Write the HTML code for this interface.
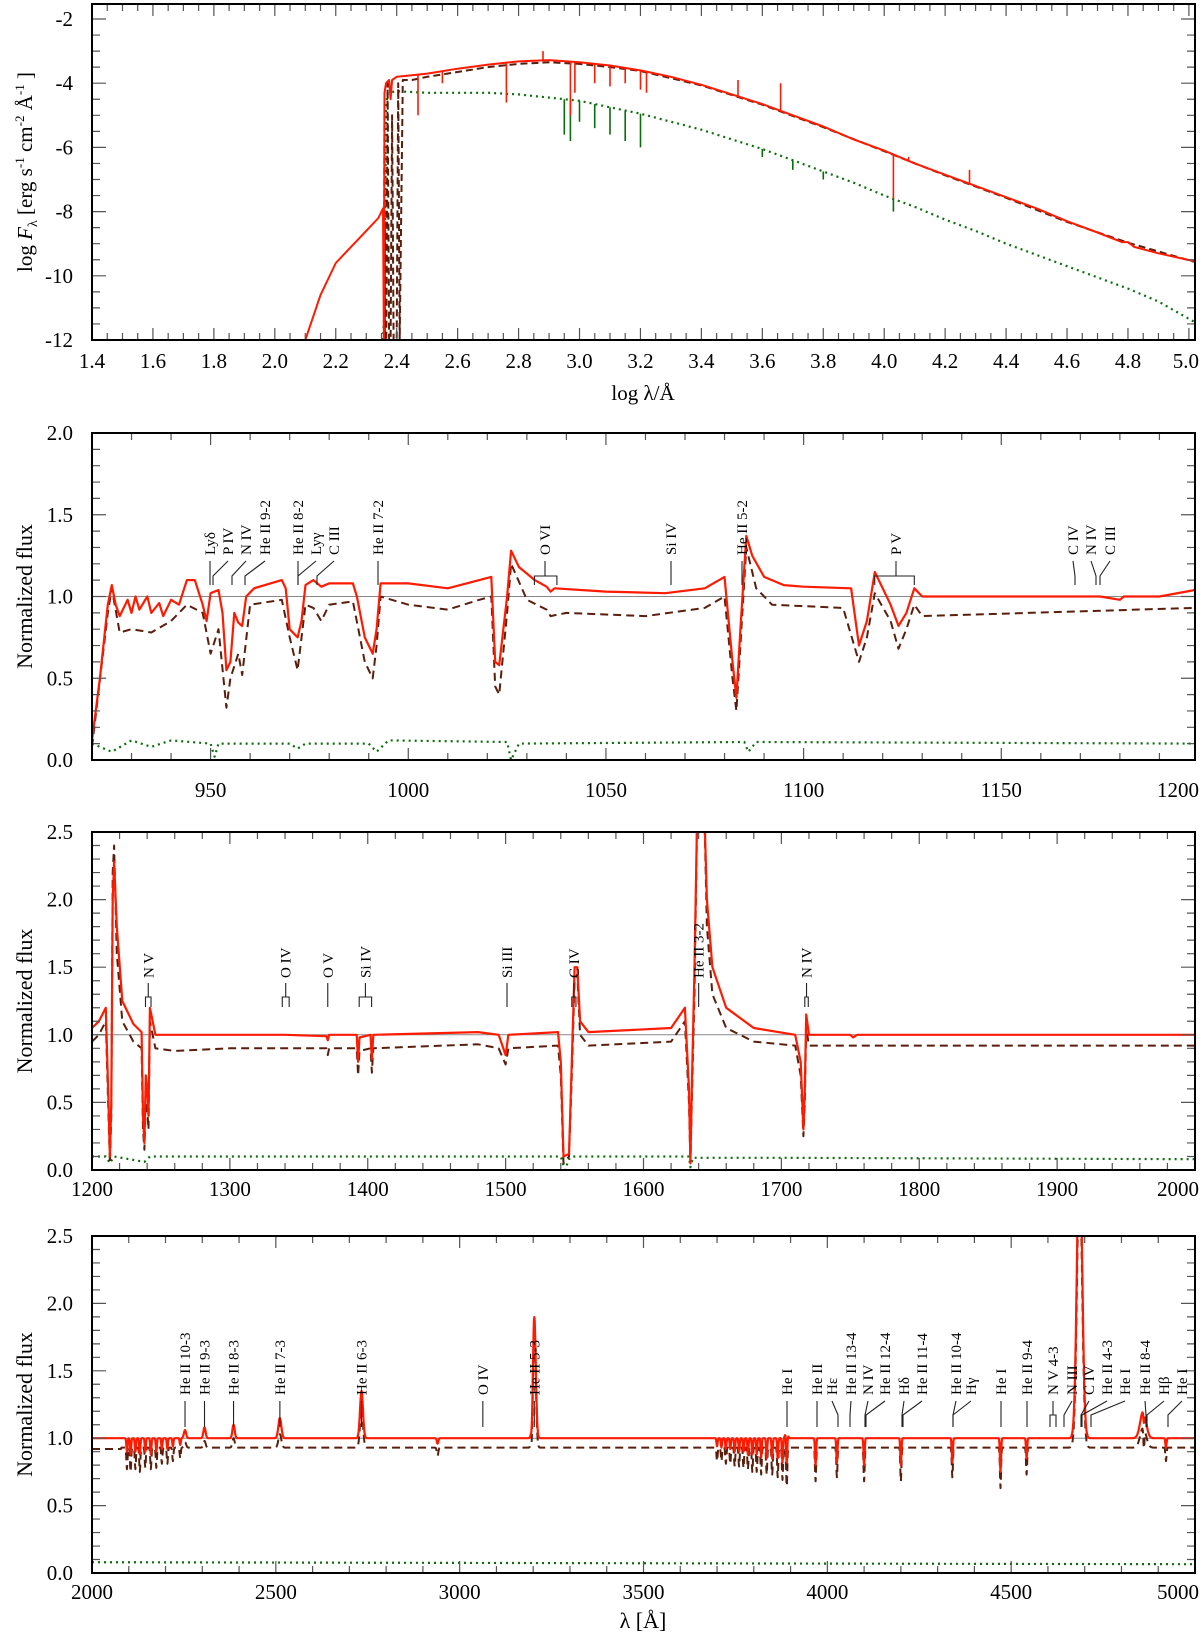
<!DOCTYPE html>
<html><head><meta charset="utf-8">
<style>
html,body{margin:0;padding:0;background:#fff;}
svg{display:block;}
text{font-family:"Liberation Serif",serif;fill:#000;}
</style></head>
<body>
<svg id="chart" width="1200" height="1634" viewBox="0 0 1200 1634" xmlns="http://www.w3.org/2000/svg"></svg>
<script>
// ---------- Panel 1 data (log lambda vs log F) ----------
const p1XTicks=[1.4,1.6,1.8,2.0,2.2,2.4,2.6,2.8,3.0,3.2,3.4,3.6,3.8,4.0,4.2,4.4,4.6,4.8,5.0];
const p1YTicks=[-12,-10,-8,-6,-4,-2];
const p1RedX=[2.10,2.15,2.2,2.25,2.3,2.34,2.355,2.358,2.36,2.365,2.375,2.38,2.385,2.4,2.45,2.5,2.6,2.7,2.8,2.9,3.0,3.1,3.2,3.3,3.4,3.5,3.6,3.7,3.8,3.9,4.0,4.1,4.2,4.3,4.4,4.5,4.6,4.7,4.78,4.8,4.82,4.9,5.02];
const p1RedY=[-12,-10.6,-9.6,-9.1,-8.6,-8.2,-7.9,-12,-4.3,-4.0,-3.9,-4.5,-3.9,-3.8,-3.75,-3.7,-3.55,-3.42,-3.32,-3.28,-3.35,-3.45,-3.6,-3.8,-4.05,-4.35,-4.65,-5.0,-5.35,-5.75,-6.1,-6.5,-6.85,-7.2,-7.55,-7.9,-8.3,-8.65,-8.95,-8.95,-9.1,-9.3,-9.55];
const p1RedSpikeX=[2.47,2.55,2.76,2.88,2.97,2.985,3.05,3.1,3.15,3.2,3.22,3.52,3.66,4.03,4.08,4.28];
const p1RedSpikeY=[-5.0,-4.0,-4.6,-3.0,-5.0,-4.3,-4.0,-4.1,-4.0,-4.2,-4.3,-3.9,-4.0,-7.6,-6.3,-6.7];
const p1DashX=[2.358,2.36,2.362,2.366,2.37,2.375,2.38,2.385,2.39,2.4,2.405,2.41,2.42,2.45,2.5,2.6,2.7,2.8,2.9,3.0,3.1,3.2,3.4,3.6,3.8,4.0,4.2,4.4,4.6,4.8,5.02];
const p1DashY=[-12,-4.5,-12,-12,-4.0,-12,-12,-5.0,-12,-12,-4.0,-12,-3.9,-3.9,-3.8,-3.65,-3.5,-3.4,-3.35,-3.4,-3.5,-3.62,-4.07,-4.67,-5.37,-6.12,-6.87,-7.57,-8.32,-8.97,-9.57];
const p1GreenX=[2.355,2.36,2.365,2.37,2.4,2.5,2.6,2.7,2.8,2.9,3.0,3.1,3.2,3.3,3.4,3.5,3.6,3.7,3.8,3.9,4.0,4.1,4.2,4.3,4.4,4.5,4.6,4.7,4.8,4.9,5.02];
const p1GreenY=[-12,-11,-4.8,-4.3,-4.25,-4.3,-4.3,-4.3,-4.35,-4.45,-4.55,-4.75,-4.95,-5.2,-5.45,-5.75,-6.05,-6.4,-6.75,-7.1,-7.5,-7.85,-8.25,-8.6,-9.0,-9.35,-9.7,-10.05,-10.4,-10.8,-11.45];
const p1GreenSpikeX=[2.362,2.95,2.97,3.0,3.05,3.1,3.15,3.2,3.6,3.7,3.8,4.03];
const p1GreenSpikeY=[-12,-5.6,-5.8,-5.2,-5.4,-5.6,-5.8,-6.0,-6.3,-6.7,-7.0,-8.0];

// ---------- Panel 2 data (920-1200 A) ----------
const p2XTicks=[950,1000,1050,1100,1150,1200];
const normYTicks2=[0,0.5,1.0,1.5,2.0];
const p2RedW=[920,922,924,925,926,927,929,930,931,932,934,935,937,938,940,942,944,946,948,949,950,952,953,954,955,956,957,958,959,961,968,969,970,972,973,974,976,978,980,982,986,987,989,991,992,993,1000,1010,1018,1021,1022,1023,1025,1026,1028,1032,1035,1036,1037,1050,1065,1075,1080,1082,1083,1084,1085.5,1087,1090,1095,1100,1112,1114,1116,1118,1120,1122,1124,1126,1128,1130,1140,1175,1180,1181,1190,1199];
const p2RedF=[0.12,0.5,0.95,1.07,0.95,0.88,0.98,0.9,1.0,0.92,1.0,0.9,0.96,0.88,0.98,0.95,1.1,1.1,0.95,0.85,1.02,1.04,0.9,0.55,0.6,0.9,0.84,0.82,1.0,1.05,1.1,1.05,0.8,0.75,0.85,1.07,1.1,1.06,1.08,1.08,1.08,1.0,0.75,0.65,0.8,1.08,1.08,1.05,1.1,1.12,0.6,0.58,1.0,1.28,1.18,1.1,1.06,1.03,1.05,1.03,1.02,1.05,1.12,0.6,0.38,0.8,1.37,1.25,1.12,1.07,1.06,1.05,0.7,0.85,1.15,1.05,0.95,0.82,0.9,1.05,1.0,1.0,1.0,0.98,1.0,1.0,1.04];
const p2DashW=[920,924,925,927,930,935,940,944,948,950,952,954,955,957,958,960,968,970,972,974,976,978,980,986,989,991,992,993,1000,1010,1018,1021,1022,1023,1025,1026,1030,1035,1036,1040,1060,1075,1080,1082,1083,1084,1085.5,1088,1092,1110,1114,1116,1118,1122,1124,1126,1128,1130,1199];
const p2DashF=[0.08,0.9,1.05,0.78,0.8,0.78,0.85,0.95,0.9,0.65,0.8,0.32,0.5,0.65,0.52,0.95,0.98,0.75,0.55,0.95,0.93,0.85,0.95,0.97,0.6,0.5,0.7,1.0,0.95,0.92,0.98,1.0,0.45,0.4,0.9,1.2,0.98,0.92,0.88,0.9,0.88,0.93,1.0,0.5,0.3,0.7,1.3,1.05,0.95,0.93,0.6,0.75,1.02,0.85,0.68,0.8,0.95,0.88,0.93];
const p2GreenW=[920,925,930,935,940,950,951,952,970,972,974,990,992,995,1025,1026,1028,1085,1086,1088,1199];
const p2GreenF=[0.1,0.05,0.12,0.08,0.12,0.1,0.02,0.1,0.1,0.07,0.1,0.1,0.05,0.12,0.11,0.0,0.1,0.11,0.05,0.11,0.1];

// ---------- Panel 3 data (1200-2000 A) ----------
const p3XTicks=[1200,1300,1400,1500,1600,1700,1800,1900,2000];
const normYTicks=[0,0.5,1.0,1.5,2.0,2.5];
const p3RedW=[1200,1205,1210,1212,1213,1214,1215,1216,1218,1222,1230,1236,1237,1238,1239,1240,1241,1242,1243,1246,1300,1340,1370,1371,1372,1392,1393,1394,1402,1403,1404,1480,1495,1500,1502,1538,1540,1542,1546,1548,1550,1552,1554,1560,1620,1630,1633,1634,1635,1637,1639,1644,1646,1650,1660,1680,1710,1714,1716,1717,1718,1720,1750,1752,1755,2000];
const p3RedF=[1.05,1.1,1.2,0.5,0.1,0.5,2.0,2.28,1.8,1.25,1.08,1.02,0.4,0.2,0.7,0.6,0.4,1.2,1.15,1.0,1.0,1.0,0.99,0.96,1.0,1.0,0.8,0.98,1.0,0.82,1.0,1.02,1.0,0.85,1.0,1.02,0.8,0.1,0.12,0.8,1.5,1.5,1.1,1.02,1.05,1.2,0.6,0.05,0.6,1.5,2.7,2.7,2.0,1.5,1.2,1.05,1.0,0.8,0.3,0.6,1.15,1.0,1.0,0.98,1.0,1.0];
const p3DashW=[1200,1205,1210,1212,1213,1214,1215,1216,1218,1222,1230,1236,1237,1238,1239,1240,1241,1242,1243,1246,1260,1300,1370,1371,1372,1392,1393,1394,1402,1403,1404,1480,1495,1500,1502,1538,1540,1542,1546,1548,1550,1552,1554,1560,1620,1630,1633,1634,1635,1637,1639,1644,1646,1650,1660,1680,1710,1714,1716,1717,1718,1720,2000];
const p3DashF=[0.95,1.0,1.1,0.4,0.05,0.4,2.2,2.4,1.6,1.1,0.95,0.9,0.3,0.15,0.5,0.45,0.3,1.1,1.05,0.9,0.88,0.9,0.9,0.85,0.9,0.9,0.7,0.88,0.9,0.72,0.9,0.93,0.9,0.78,0.9,0.92,0.7,0.05,0.1,0.7,1.4,1.45,1.0,0.92,0.95,1.1,0.5,0.05,0.5,1.3,2.7,2.7,1.8,1.3,1.05,0.95,0.92,0.7,0.25,0.5,1.05,0.92,0.92];
const p3GreenW=[1200,1210,1213,1216,1238,1242,1540,1543,1546,1548,1633,1634,1636,1700,2000];
const p3GreenF=[0.1,0.1,0.05,0.1,0.06,0.1,0.1,0.0,0.08,0.1,0.1,0.02,0.09,0.09,0.08];

// ---------- Panel 4 data (2000-5000 A): line list ----------
const p4XTicks=[2000,2500,3000,3500,4000,4500,5000];
const p4LineWl=[2253,2306,2385,2511,2733,3197,3203,3889,3889.5,3968,4026,4100,4200,4340,4471,4542,4686,4859,4861,4921,2940,
 2095,2105,2118,2130,2145,2160,2175,2190,2205,2220,2240,
 3700,3712,3724,3736,3748,3760,3772,3784,3796,3808,3820,3835,3850,3865,3878];
const p4RedAmp=[0.06,0.08,0.1,0.15,0.35,-0.12,0.9,0.06,-0.25,-0.2,-0.18,-0.2,-0.2,-0.18,-0.25,-0.15,2.2,0.2,-0.08,-0.07,-0.04,
 -0.1,-0.12,-0.1,-0.12,-0.1,-0.12,-0.1,-0.08,-0.08,-0.06,-0.05,
 -0.06,-0.07,-0.08,-0.08,-0.1,-0.1,-0.1,-0.12,-0.12,-0.12,-0.14,-0.15,-0.15,-0.15,-0.18];
const p4DashAmp=[0.04,0.05,0.07,0.1,0.3,-0.15,0.85,0.0,-0.3,-0.25,-0.22,-0.25,-0.25,-0.22,-0.3,-0.2,2.0,0.15,-0.15,-0.1,-0.06,
 -0.16,-0.18,-0.16,-0.18,-0.15,-0.16,-0.15,-0.12,-0.12,-0.1,-0.08,
 -0.1,-0.1,-0.12,-0.12,-0.14,-0.14,-0.15,-0.16,-0.18,-0.18,-0.2,-0.2,-0.2,-0.22,-0.24];
const p4LineWidth=[3,3,3,4,4,2,4,3,1.5,1.5,1.5,1.5,1.5,1.5,1.5,1.5,7,8,1.5,1.5,2,
 1.5,1.5,1.5,1.5,1.5,1.5,1.5,1.5,1.5,1.5,1.5,
 1.5,1.5,1.5,1.5,1.5,1.5,1.5,1.5,1.5,1.5,1.5,1.5,1.5,1.5,1.5];
const p4RedCont=1.0;
const p4DashCont=0.93;
const p4GreenW=[2000,3000,4000,5000];
const p4GreenF=[0.08,0.075,0.07,0.065];

// ---------- layout ----------
const NS="http://www.w3.org/2000/svg";
const svg=document.getElementById('chart');
const P1={x0:92,x1:1195,top:4,bot:340,xmin:1.4,xmax:5.02,ymin:-12,ymax:-1.533};
const P2={x0:92,x1:1195,top:433,bot:760,xmin:920,xmax:1199,ymin:0,ymax:2.0};
const P3={x0:92,x1:1195,top:832,bot:1170,xmin:1200,xmax:2000,ymin:0,ymax:2.5};
const P4={x0:92,x1:1195,top:1236,bot:1573,xmin:2000,xmax:5000,ymin:0,ymax:2.5};
function sx(p,v){return p.x0+(v-p.xmin)/(p.xmax-p.xmin)*(p.x1-p.x0);}
function sy(p,v){return p.bot-(v-p.ymin)/(p.ymax-p.ymin)*(p.bot-p.top);}
function el(tag,parent){const e=document.createElementNS(NS,tag);(parent||svg).appendChild(e);return e;}
function interp(xs,ys,x){for(let i=1;i<xs.length;i++){if(x<=xs[i]){const t=(x-xs[i-1])/(xs[i]-xs[i-1]);return ys[i-1]+t*(ys[i]-ys[i-1]);}}return ys[ys.length-1];}

let clipN=0;
function makeGroup(p,name){
  const defs=el('defs');
  const cp=el('clipPath',defs);clipN++;cp.setAttribute('id','clip'+clipN);
  const r=el('rect',cp);r.setAttribute('x',p.x0);r.setAttribute('y',p.top);r.setAttribute('width',p.x1-p.x0);r.setAttribute('height',p.bot-p.top);
  const g=el('g');g.setAttribute('clip-path','url(#clip'+clipN+')');
  
  
  return g;
}
function series(p,g,xs,ys,color,dash,w,name){
  let d='';for(let i=0;i<xs.length;i++){d+=(i?'L':'M')+sx(p,xs[i]).toFixed(1)+' '+sy(p,ys[i]).toFixed(1);}
  const pa=el('path',g);pa.setAttribute('d',d);pa.setAttribute('fill','none');pa.setAttribute('stroke',color);
  pa.setAttribute('stroke-width',w);pa.setAttribute('stroke-linejoin','round');if(dash)pa.setAttribute('stroke-dasharray',dash);
  
  
  return pa;
}
function spikes(p,g,baseX,baseY,sxArr,syArr,color,name){
  let d='';for(let i=0;i<sxArr.length;i++){const x=sx(p,sxArr[i]);d+='M'+x.toFixed(1)+' '+sy(p,interp(baseX,baseY,sxArr[i])).toFixed(1)+'V'+sy(p,syArr[i]).toFixed(1);}
  const pa=el('path',g);pa.setAttribute('d',d);pa.setAttribute('stroke',color);pa.setAttribute('stroke-width',1.6);
  
  
}
function frame(p,name,xTicks,xMinor,yTicks,yMinor,xfmt,yfmt,labY){
  const g=el('g');
  
  
  let d='';
  for(let v=p.xmin;v<=p.xmax+1e-9;v+=xMinor){const vv=Math.round(v/xMinor)*xMinor;const x=sx(p,vv);if(x<p.x0||x>p.x1)continue;
    const maj=xTicks.some(t=>Math.abs(t-vv)<xMinor/10);const L=maj?12:7;d+='M'+x+' '+p.bot+'v'+(-L)+'M'+x+' '+p.top+'v'+L;}
  for(let v=Math.ceil(p.ymin/yMinor)*yMinor;v<=p.ymax+1e-9;v+=yMinor){const vv=Math.round(v/yMinor)*yMinor;const y=sy(p,vv);if(y<p.top||y>p.bot)continue;
    const maj=yTicks.some(t=>Math.abs(t-vv)<yMinor/10);const L=maj?14:8;d+='M'+p.x0+' '+y+'h'+L+'M'+p.x1+' '+y+'h'+(-L);}
  const t=el('path',g);t.setAttribute('d',d);t.setAttribute('stroke','#555');t.setAttribute('stroke-width',1.2);t.setAttribute('fill','none');
  const r=el('rect',g);r.setAttribute('x',p.x0);r.setAttribute('y',p.top);r.setAttribute('width',p.x1-p.x0);r.setAttribute('height',p.bot-p.top);
  r.setAttribute('fill','none');r.setAttribute('stroke','#000');r.setAttribute('stroke-width',2);
  xTicks.forEach(v=>{const tx=el('text',g);let x=sx(p,v);tx.setAttribute('font-size',21);
    if(x>1160){tx.setAttribute('x',1199);tx.setAttribute('text-anchor','end');}else{tx.setAttribute('x',x);tx.setAttribute('text-anchor','middle');}
    tx.setAttribute('y',labY);tx.textContent=xfmt(v);
    
    });
  yTicks.forEach(v=>{const ty=el('text',g);ty.setAttribute('x',73);ty.setAttribute('y',sy(p,v)+7);ty.setAttribute('font-size',21);ty.setAttribute('text-anchor','end');ty.textContent=yfmt(v);
    
    });
}
function ytitle(p,txt){const t=el('text');t.setAttribute('transform','translate(32,'+((p.top+p.bot)/2)+') rotate(-90)');t.setAttribute('font-size',22);t.setAttribute('text-anchor','middle');t.textContent=txt;
  
  }
function refLine(p,g){const l=el('line',g);l.setAttribute('x1',p.x0);l.setAttribute('x2',p.x1);l.setAttribute('y1',sy(p,1));l.setAttribute('y2',sy(p,1));l.setAttribute('stroke','#888');l.setAttribute('stroke-width',1);
  
  }

function idLabels(list,Y){
  const g=el('g');
  
  
  list.forEach(it=>{
    const [txt,lx,t1,t2]=it;
    const tx=el('text',g);tx.setAttribute('transform','translate('+(lx+5)+','+Y.tb+') rotate(-90)');tx.setAttribute('font-size',15);tx.textContent=txt;
    
    
    let d;
    if(t2!=null){d='M'+lx+' '+Y.top+'V'+Y.bend+'M'+t1+' '+Y.bot+'V'+Y.bend+'H'+t2+'V'+Y.bot;}
    else if(Math.abs(lx-t1)<1){d='M'+lx+' '+Y.top+'V'+Y.bot;}
    else{d='M'+lx+' '+Y.top+'L'+t1+' '+Y.bend+'V'+Y.bot;}
    const pa=el('path',g);pa.setAttribute('d',d);pa.setAttribute('fill','none');pa.setAttribute('stroke','#222');pa.setAttribute('stroke-width',1.1);
    
    
  });
}

const RED='#ff1a00',BROWN='#5a1e0c',GREEN='#0a6e0a';
const f1=v=>v.toFixed(1);

// ===== Panel 1 =====
(function(){
  const g=makeGroup(P1,'sed-panel-plot');
  series(P1,g,p1GreenX,p1GreenY,GREEN,'2 4',2.2,'green-dotted-sed');
  spikes(P1,g,p1GreenX,p1GreenY,p1GreenSpikeX,p1GreenSpikeY,GREEN,'green-sed-lines');
  series(P1,g,p1DashX,p1DashY,BROWN,'7 4',2,'brown-dashed-sed');
  series(P1,g,p1RedX,p1RedY,RED,null,2,'red-model-sed');
  spikes(P1,g,p1RedX,p1RedY,p1RedSpikeX,p1RedSpikeY,RED,'red-sed-lines');
  frame(P1,'sed-panel-axes',p1XTicks,0.05,p1YTicks,0.5,f1,v=>String(v),368);
  const t=el('text');t.setAttribute('transform','translate(32,172) rotate(-90)');t.setAttribute('font-size',21);t.setAttribute('text-anchor','middle');
  t.innerHTML='log <tspan font-style="italic">F</tspan><tspan font-size="14" dy="5">λ</tspan><tspan dy="-5"> [erg s</tspan><tspan font-size="13" dy="-8">-1</tspan><tspan dy="8"> cm</tspan><tspan font-size="13" dy="-8">-2</tspan><tspan dy="8"> Å</tspan><tspan font-size="13" dy="-8">-1</tspan><tspan dy="8"> ]</tspan>';
  
  
  const xt=el('text');xt.setAttribute('x',643);xt.setAttribute('y',400);xt.setAttribute('font-size',21);xt.setAttribute('text-anchor','middle');xt.textContent='log λ/Å';
  
  
})();

// ===== Panel 2 =====
(function(){
  const g=makeGroup(P2,'fuv-panel-plot');
  refLine(P2,g);
  series(P2,g,p2GreenW,p2GreenF,GREEN,'2 4',2.2,'green-dotted-fuv');
  series(P2,g,p2DashW,p2DashF,BROWN,'8 5',2,'brown-dashed-fuv');
  series(P2,g,p2RedW,p2RedF,RED,null,2.2,'red-model-fuv');
  frame(P2,'fuv-panel-axes',p2XTicks,10,normYTicks2,0.1,v=>String(v),f1,797);
  ytitle(P2,'Normalized flux');
  idLabels([['Lyδ',210,210],['P IV',228,213],['N IV',246,232],['He II 9-2',265,245],['He II 8-2',298,298],['Lyγ',316,298],['C III',334,317],['He II 7-2',378,378],
    ['O VI',545,sx(P2,1031.9),sx(P2,1037.6)],['Si IV',671,671],['He II 5-2',742,742],['P V',896,sx(P2,1118),sx(P2,1128)],
    ['C IV',1073,1075],['N IV',1091,1096],['C III',1110,1100]],{tb:555,top:561,bend:576,bot:585});
})();

// ===== Panel 3 =====
(function(){
  const g=makeGroup(P3,'uv-panel-plot');
  refLine(P3,g);
  series(P3,g,p3GreenW,p3GreenF,GREEN,'2 4',2.2,'green-dotted-uv');
  series(P3,g,p3DashW,p3DashF,BROWN,'8 5',2,'brown-dashed-uv');
  series(P3,g,p3RedW,p3RedF,RED,null,2.2,'red-model-uv');
  frame(P3,'uv-panel-axes',p3XTicks,20,normYTicks,0.1,v=>String(v),f1,1196);
  ytitle(P3,'Normalized flux');
  const L=(t,a,b)=>[t,b?(sx(P3,a)+sx(P3,b))/2:sx(P3,a),sx(P3,a),b?sx(P3,b):null];
  idLabels([L('N V',1238.8,1242.8),L('O IV',1338,1343),L('O V',1371),L('Si IV',1393.8,1402.8),L('Si III',1501),L('C IV',1548,1551),L('He II 3-2',1640),L('N IV',1717,1719.5)],
    {tb:978,top:983,bend:997,bot:1007});
})();

// ===== Panel 4 =====
(function(){
  const g=makeGroup(P4,'optical-panel-plot');
  refLine(P4,g);
  const W=[],R=[],D=[];
  for(let w=2000;w<=5000;w+=1){
    let r=p4RedCont,dd=(w<2080?0.92:p4DashCont);
    for(let i=0;i<p4LineWl.length;i++){const z=(w-p4LineWl[i])/p4LineWidth[i];if(Math.abs(z)<5){const gz=Math.exp(-0.5*z*z);r+=p4RedAmp[i]*gz;dd+=p4DashAmp[i]*gz;}}
    W.push(w);R.push(r);D.push(dd);
  }
  series(P4,g,p4GreenW,p4GreenF,GREEN,'2 4',2.2,'green-dotted-optical');
  series(P4,g,W,D,BROWN,'8 5',2,'brown-dashed-optical');
  series(P4,g,W,R,RED,null,2.2,'red-model-optical');
  frame(P4,'optical-panel-axes',p4XTicks,100,normYTicks,0.1,v=>String(v),f1,1599);
  ytitle(P4,'Normalized flux');
  const L=(t,a)=>[t,sx(P4,a),sx(P4,a),null];
  idLabels([L('He II 10-3',2253),L('He II 9-3',2306),L('He II 8-3',2385),L('He II 7-3',2511),L('He II 6-3',2733),L('O IV',3063),L('He II 5-3',3203),
    ['He I',787,787],['He II',817,817],['Hε',832,838],['He II 13-4',851,850],['N IV',868,865],['He II 12-4',885,866],['Hδ',904,902],['He II 11-4',922,903],
    ['He II 10-4',956,953],['Hγ',971,953],['He I',1001,1001],['He II 9-4',1027,1027],['N V 4-3',1053,1050,1056],['N III',1072,1064],['C IV',1089,1081],
    ['He II 4-3',1107,1082],['He I',1125,1091],['He II 8-4',1145,1146],['Hβ',1164,1147],['He I',1182,1168]],
    {tb:1395,top:1401,bend:1415,bot:1427});
  const xt=el('text');xt.setAttribute('x',643);xt.setAttribute('y',1628);xt.setAttribute('font-size',22);xt.setAttribute('text-anchor','middle');xt.textContent='λ [Å]';
  
  
})();
</script>
</body></html>
